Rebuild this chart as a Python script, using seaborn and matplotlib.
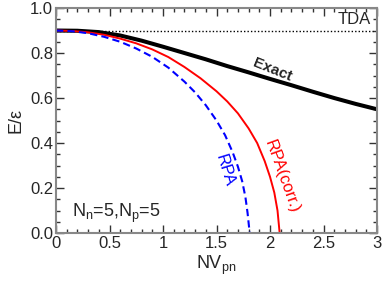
import numpy as np
import pandas as pd
import matplotlib
matplotlib.use('Agg')
import matplotlib.pyplot as plt
import seaborn as sns
from matplotlib.ticker import MultipleLocator

# values
x_exact = [0, 0.2, 0.4, 0.6, 0.8, 1.0, 1.2, 1.4, 1.6, 1.8, 2.0, 2.2, 2.4, 2.6, 2.8, 3.0]
y_exact = [0.9, 0.899, 0.893, 0.878, 0.855, 0.828, 0.800, 0.772, 0.742, 0.714, 0.685,
           0.657, 0.628, 0.600, 0.574, 0.55]

x_rpa = [0, 0.15, 0.3, 0.45, 0.6, 0.75, 0.9, 1.05, 1.2, 1.3, 1.4, 1.5, 1.58, 1.65,
         1.7, 1.74, 1.77, 1.79, 1.81]
y_rpa = [0.9, 0.897, 0.888, 0.872, 0.85, 0.82, 0.783, 0.735, 0.673, 0.625, 0.568,
         0.500, 0.435, 0.36, 0.295, 0.23, 0.16, 0.09, 0.0]

x_corr = [0, 0.15, 0.3, 0.45, 0.6, 0.75, 0.9, 1.05, 1.2, 1.35, 1.5, 1.6, 1.7, 1.8,
          1.88, 1.95, 2.0, 2.04, 2.07, 2.09]
y_corr = [0.9, 0.898, 0.892, 0.881, 0.864, 0.843, 0.816, 0.782, 0.738, 0.688, 0.630,
          0.585, 0.532, 0.465, 0.40, 0.32, 0.25, 0.18, 0.10, 0.0]

x_tda = [0, 3]
y_tda = [0.9, 0.9]

sns.set_style('ticks')
plt.rcParams['font.family'] = ['Liberation Sans', 'DejaVu Sans']
plt.rcParams['mathtext.fontset'] = 'custom'
plt.rcParams['mathtext.rm'] = 'Liberation Sans'
plt.rcParams['mathtext.it'] = 'Liberation Sans'

fig = plt.figure(figsize=(3.82, 2.86), dpi=100)
ax = fig.add_axes([0.1466, 0.185, 0.8404, 0.787])

sns.lineplot(x=x_tda, y=y_tda, ax=ax, color='black', lw=1.0, linestyle=(0, (1, 1.5)))
sns.lineplot(x=x_exact, y=y_exact, ax=ax, color='black', lw=2.9, sort=False, estimator=None)
sns.lineplot(x=x_corr, y=y_corr, ax=ax, color='red', lw=1.4, sort=False, estimator=None)
sns.lineplot(x=x_rpa, y=y_rpa, ax=ax, color='blue', lw=1.5, sort=False, estimator=None,
             linestyle=(0, (3.5, 2)))

ax.set_xlim(0, 3)
ax.set_ylim(0, 1)
ax.xaxis.set_minor_locator(MultipleLocator(0.1))
ax.yaxis.set_major_locator(MultipleLocator(0.2))
ax.yaxis.set_minor_locator(MultipleLocator(0.05))
ax.set_xticks([0, 0.5, 1, 1.5, 2, 2.5, 3])
ax.set_xticklabels(['0', '0.5', '1', '1.5', '2', '2.5', '3'])
ax.tick_params(which='both', direction='in', top=True, right=True, labelsize=12,
               color='#333333', pad=2)
ax.tick_params(which='major', length=6, width=1)
ax.tick_params(which='minor', length=3, width=1)
for s in ax.spines.values():
    s.set_color('#888888')
    s.set_linewidth(1.5)

ax.set_xlabel(r'NV$_{\rm pn}$', fontsize=13, labelpad=2)
ax.set_ylabel('E/ε', fontsize=13, labelpad=4)

ax.text(2.94, 0.915, 'TDA', fontsize=12, ha='right', va='bottom')
ax.text(2.02, 0.726, 'Exact', fontsize=11, fontweight='bold', rotation=-22,
        ha='center', va='center')
ax.text(1.58, 0.28, 'RPA', fontsize=12, color='blue', rotation=-73,
        ha='center', va='center')
ax.text(2.11, 0.25, 'RPA(corr.)', fontsize=12, color='red', rotation=-70,
        ha='center', va='center')
ax.text(0.15, 0.07, r'N$_{\rm n}$=5,N$_{\rm p}$=5', fontsize=13, ha='left', va='baseline')

plt.savefig('out.png', dpi=100)
